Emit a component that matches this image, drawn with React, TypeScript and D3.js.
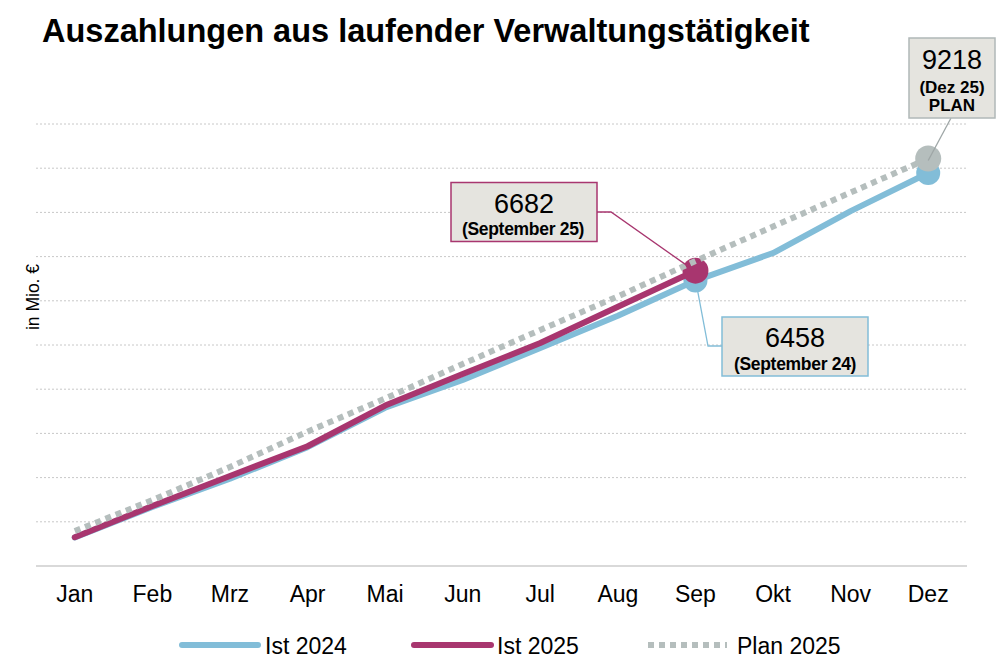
import * as d3 from 'd3';

const months = ['Jan', 'Feb', 'Mrz', 'Apr', 'Mai', 'Jun', 'Jul', 'Aug', 'Sep', 'Okt', 'Nov', 'Dez'];
const ist2024 = [645, 1335, 1975, 2690, 3580, 4208, 4932, 5660, 6458, 7081, 8030, 8891];
const ist2025 = [650, 1357, 2036, 2710, 3630, 4344, 5045, 5866, 6682];
const plan2025 = [790, 1490, 2240, 3040, 3790, 4570, 5340, 6100, 6900, 7680, 8450, 9218];
const gridTicks = [1000, 2000, 3000, 4000, 5000, 6000, 7000, 8000, 9000, 10000];

const BLUE = '#82bdd8';
const PURPLE = '#a8366f';
const GREY = '#b5bebd';
const BOX = '#e5e4df';
const FONT = '"Liberation Sans", Arial, sans-serif';

const App = () => {
    const width = 1008;
    const height = 672;

    const x = d3.scaleBand().domain(months).range([36, 967]);
    const cx = (m: string) => (x(m) as number) + x.bandwidth() / 2;
    const y = d3.scaleLinear().domain([0, 10000]).range([566, 124]);

    const line = d3.line<number>()
        .x((_, i) => cx(months[i]))
        .y(d => y(d));

    const sep = cx('Sep');
    const dez = cx('Dez');

    return (
        <svg width={width} height={height} style={{ position: 'absolute', left: 0, top: 0, fontFamily: FONT }}>
            <rect width={width} height={height} fill="#fff" />

            <text x={42} y={42} fontSize={32.5} fontWeight="bold" fill="#000">
                Auszahlungen aus laufender Verwaltungstätigkeit
            </text>

            {/* grid */}
            {gridTicks.map(t => (
                <line key={t} x1={36} x2={967} y1={y(t)} y2={y(t)}
                    stroke="#c8c8c8" strokeWidth={1} strokeDasharray="2 2" />
            ))}
            <line x1={36} x2={967} y1={y(0)} y2={y(0)} stroke="#d9d9d9" strokeWidth={2} />

            <text transform="translate(39, 297) rotate(-90)" textAnchor="middle"
                fontSize={17.5} fill="#000">in Mio. €</text>

            {months.map(m => (
                <text key={m} x={cx(m)} y={602} textAnchor="middle" fontSize={23} fill="#000">{m}</text>
            ))}

            {/* series */}
            <path d={line(ist2024) as string} fill="none" stroke={BLUE} strokeWidth={6} strokeLinejoin="round" strokeLinecap="round" />
            <circle cx={sep} cy={y(ist2024[8])} r={12} fill={BLUE} />
            <circle cx={dez} cy={y(ist2024[11])} r={12} fill={BLUE} />

            <path d={line(ist2025) as string} fill="none" stroke={PURPLE} strokeWidth={6} strokeLinejoin="round" strokeLinecap="round" />
            <circle cx={sep} cy={y(ist2025[8])} r={13} fill={PURPLE} />

            <path d={line(plan2025) as string} fill="none" stroke={GREY} strokeWidth={6} strokeDasharray="6 5" />
            <circle cx={dez} cy={y(plan2025[11])} r={13} fill={GREY} />

            {/* annotation Sep 25 */}
            <polyline points={`597,212 611,212 ${sep - 4},${y(ist2025[8]) - 2}`} fill="none" stroke={PURPLE} strokeWidth={1.3} />
            <rect x={451} y={182.5} width={146} height={59} fill={BOX} stroke={PURPLE} strokeWidth={1.5} />
            <text x={524} y={213} textAnchor="middle" fontSize={27} fill="#000">{ist2025[8]}</text>
            <text x={523} y={235} textAnchor="middle" fontSize={17.5} fontWeight="bold" letterSpacing={-0.3} fill="#000">(September 25)</text>

            {/* annotation Sep 24 */}
            <polyline points={`${sep + 1},${y(ist2024[8]) + 4} 708,346 722,346`} fill="none" stroke={BLUE} strokeWidth={1.3} />
            <rect x={722} y={317} width={146} height={59} fill={BOX} stroke={BLUE} strokeWidth={1.5} />
            <text x={795} y={347} textAnchor="middle" fontSize={27} fill="#000">{ist2024[8]}</text>
            <text x={795} y={370} textAnchor="middle" fontSize={17.5} fontWeight="bold" letterSpacing={-0.3} fill="#000">(September 24)</text>

            {/* annotation Dez Plan */}
            <line x1={951} y1={118} x2={dez} y2={y(plan2025[11]) + 2} stroke="#9ea6a6" strokeWidth={1.3} />
            <rect x={909} y={38} width={86} height={80} fill={BOX} stroke="#b0b8b8" strokeWidth={1.5} />
            <text x={952} y={69} textAnchor="middle" fontSize={27} fill="#000">{plan2025[11]}</text>
            <text x={952} y={93} textAnchor="middle" fontSize={17} fontWeight="bold" fill="#000">(Dez 25)</text>
            <text x={952} y={111} textAnchor="middle" fontSize={17} fontWeight="bold" fill="#000">PLAN</text>

            {/* legend */}
            <line x1={182} x2={258} y1={645} y2={645} stroke={BLUE} strokeWidth={6} strokeLinecap="round" />
            <text x={265} y={654} fontSize={23} fill="#000">Ist 2024</text>
            <line x1={414} x2={491} y1={645} y2={645} stroke={PURPLE} strokeWidth={6} strokeLinecap="round" />
            <text x={497} y={654} fontSize={23} fill="#000">Ist 2025</text>
            <line x1={648} x2={727} y1={645} y2={645} stroke={GREY} strokeWidth={6} strokeDasharray="6 5" />
            <text x={737} y={654} fontSize={23} fill="#000">Plan 2025</text>
        </svg>
    );
};

export default App;
